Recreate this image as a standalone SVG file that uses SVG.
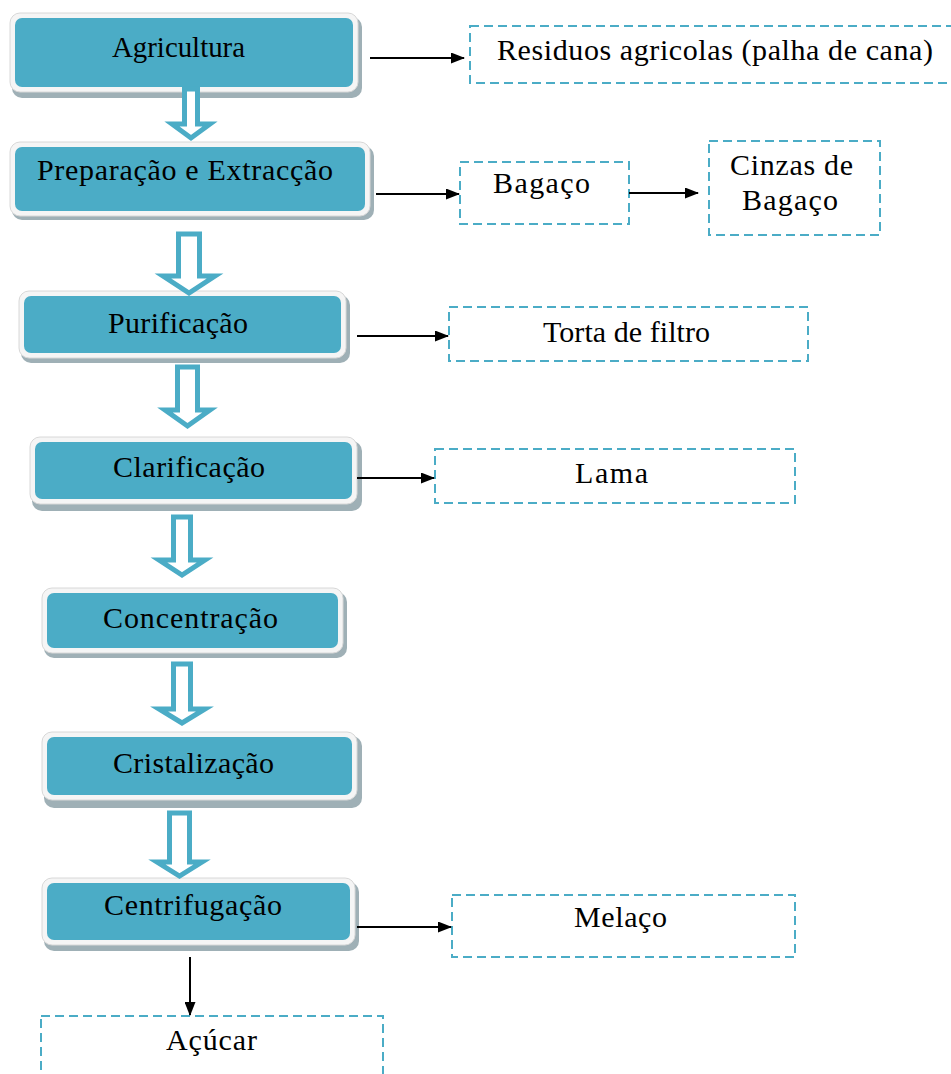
<svg xmlns="http://www.w3.org/2000/svg" width="951" height="1074" viewBox="0 0 951 1074">
<style>
text{font-family:"Liberation Serif","Times New Roman",serif;font-size:30px;fill:#000}
.sh{fill:#9fb0b6}
.fr{fill:#f5f5f5;stroke:#d8d8d8;stroke-width:1}
.tl{fill:#4BACC6}
.db{fill:#fff;stroke:#4BACC6;stroke-width:2;stroke-dasharray:9 5}
.ba{fill:#fff;stroke:#4BACC6;stroke-width:5;stroke-linejoin:miter}
.ln{stroke:#000;stroke-width:2;fill:none;marker-end:url(#ah)}
</style>
<defs>
<marker id="ah" viewBox="0 0 14 11" refX="13" refY="5.5" markerWidth="14" markerHeight="11" markerUnits="userSpaceOnUse" orient="auto">
<path d="M0,0 L14,5.5 L0,11 Z" fill="#000"/>
</marker>
</defs>
<rect width="951" height="1074" fill="#fff"/>

<g id="n1">
<rect class="sh" x="12" y="17" width="350" height="81" rx="10"/>
<rect class="fr" x="10" y="13" width="348" height="79" rx="10"/>
<rect class="tl" x="15" y="18" width="338" height="69" rx="7"/>
<text x="112" y="57" textLength="133" lengthAdjust="spacingAndGlyphs">Agricultura</text>
</g>
<g id="n2">
<rect class="sh" x="12" y="146" width="362" height="74" rx="10"/>
<rect class="fr" x="10" y="142" width="360" height="74" rx="10"/>
<rect class="tl" x="15" y="147" width="350" height="64" rx="7"/>
<text x="37" y="180" textLength="296" lengthAdjust="spacing">Preparação e Extracção</text>
</g>
<g id="n3">
<rect class="sh" x="21" y="295" width="329" height="68" rx="10"/>
<rect class="fr" x="19" y="291" width="327" height="67" rx="10"/>
<rect class="tl" x="24" y="296" width="317" height="57" rx="7"/>
<text x="108" y="333" textLength="140" lengthAdjust="spacing">Purificação</text>
</g>
<g id="n4">
<rect class="sh" x="32" y="441" width="330" height="70" rx="10"/>
<rect class="fr" x="30" y="437" width="327" height="67" rx="10"/>
<rect class="tl" x="35" y="442" width="317" height="57" rx="7"/>
<text x="113" y="477" textLength="152" lengthAdjust="spacing">Clarificação</text>
</g>
<g id="n5">
<rect class="sh" x="44" y="592" width="303" height="66" rx="10"/>
<rect class="fr" x="42" y="588" width="301" height="65" rx="10"/>
<rect class="tl" x="47" y="593" width="291" height="55" rx="7"/>
<text x="103" y="628" textLength="175" lengthAdjust="spacing">Concentração</text>
</g>
<g id="n6">
<rect class="sh" x="44" y="736" width="318" height="72" rx="10"/>
<rect class="fr" x="42" y="732" width="315" height="68" rx="10"/>
<rect class="tl" x="47" y="737" width="305" height="58" rx="7"/>
<text x="113" y="773" textLength="161" lengthAdjust="spacing">Cristalização</text>
</g>
<g id="n7">
<rect class="sh" x="44" y="882" width="315" height="69" rx="10"/>
<rect class="fr" x="42" y="878" width="313" height="67" rx="10"/>
<rect class="tl" x="47" y="883" width="303" height="57" rx="7"/>
<text x="104" y="915" textLength="178" lengthAdjust="spacing">Centrifugação</text>
</g>

<g id="residuos">
<rect class="db" x="470" y="26" width="490" height="57"/>
<text x="497" y="60" textLength="436" lengthAdjust="spacing">Residuos agricolas (palha de cana)</text>
</g>
<g id="bagaco">
<rect class="db" x="460" y="162" width="169" height="62"/>
<text x="493" y="193" textLength="97" lengthAdjust="spacing">Bagaço</text>
</g>
<g id="cinzas">
<rect class="db" x="709" y="141" width="171" height="94"/>
<text x="730" y="175" textLength="123" lengthAdjust="spacing">Cinzas de</text>
<text x="742" y="210" textLength="96" lengthAdjust="spacing">Bagaço</text>
</g>
<g id="torta">
<rect class="db" x="449" y="307" width="359" height="54"/>
<text x="543" y="342" textLength="167" lengthAdjust="spacing">Torta de filtro</text>
</g>
<g id="lama">
<rect class="db" x="435" y="449" width="360" height="54"/>
<text x="575" y="483" textLength="73" lengthAdjust="spacing">Lama</text>
</g>
<g id="melaco">
<rect class="db" x="452" y="895" width="343" height="62"/>
<text x="574" y="927" textLength="93" lengthAdjust="spacing">Melaço</text>
</g>
<g id="acucar">
<rect class="db" x="41" y="1016" width="342" height="70"/>
<text x="166" y="1050" textLength="91" lengthAdjust="spacing">Açúcar</text>
</g>

<g id="connectors">
<path class="ba" d="M184.5,89 L197.5,89 L197.5,124 L210,124 L191,138 L172,124 L184.5,124 Z"/>
<path class="ba" d="M178.5,234 L199.5,234 L199.5,276 L215,276 L189,293 L163,276 L178.5,276 Z"/>
<path class="ba" d="M177.5,367 L197.5,367 L197.5,410 L210,410 L187.5,426 L165,410 L177.5,410 Z"/>
<path class="ba" d="M173.5,517 L190.5,517 L190.5,560 L205,560 L182,575 L159,560 L173.5,560 Z"/>
<path class="ba" d="M173.5,664 L190.5,664 L190.5,709 L205,709 L182,723 L159,709 L173.5,709 Z"/>
<path class="ba" d="M169.5,813 L189.5,813 L189.5,862 L202,862 L179.5,876 L157,862 L169.5,862 Z"/>

<line class="ln" x1="370" y1="58" x2="464" y2="58"/>
<line class="ln" x1="376" y1="194" x2="459" y2="194"/>
<line class="ln" x1="629" y1="193" x2="698" y2="193"/>
<line class="ln" x1="357" y1="336" x2="448" y2="336"/>
<line class="ln" x1="357" y1="478" x2="434" y2="478"/>
<line class="ln" x1="357" y1="927" x2="451" y2="927"/>
<line class="ln" x1="190" y1="957" x2="190" y2="1015"/>
</g>
</svg>
